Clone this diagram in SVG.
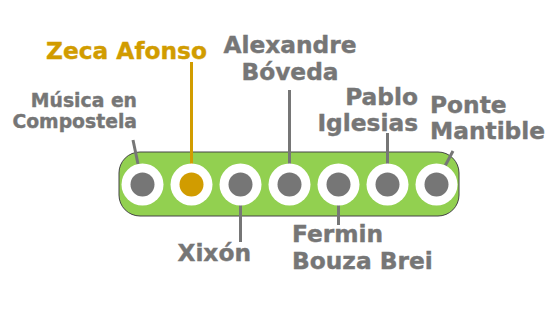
<svg xmlns="http://www.w3.org/2000/svg" width="545" height="321" viewBox="0 0 545 321">
<style>
text{font-family:"DejaVu Sans",Verdana,sans-serif;font-weight:bold;font-size:23.3px;fill:#767676;stroke:#767676;stroke-width:0.4}
.hl{fill:#d19c00;stroke:#d19c00}
.sm{font-size:18.8px}
.ln{stroke:#767676;stroke-width:3;fill:none}
.lnh{stroke:#d19c00;stroke-width:3;fill:none}
.ring{fill:#ffffff}
.dot{fill:#767676}
.doth{fill:#d19c00}
</style>
<rect id="bar" x="119" y="152" width="340" height="64" rx="21" ry="21" fill="#92d050" stroke="#444" stroke-width="1"/>
<g id="connectors">
<line class="ln" x1="133" y1="140" x2="138" y2="164"/>
<line class="lnh" x1="191.5" y1="62" x2="191.5" y2="164"/>
<line class="ln" x1="289.5" y1="90" x2="289.5" y2="164"/>
<line class="ln" x1="387.5" y1="133" x2="387.5" y2="164"/>
<line class="ln" x1="453" y1="151" x2="445" y2="166"/>
<line class="ln" x1="240.5" y1="204" x2="240.5" y2="242"/>
<line class="ln" x1="338.5" y1="204" x2="338.5" y2="225"/>
</g>
<g id="musica"><circle class="ring" cx="142.5" cy="184.5" r="21"/><circle class="dot" cx="142.5" cy="184.5" r="12"/>
<text class="sm" x="137" y="107" text-anchor="end">Música en</text><text class="sm" x="137" y="127.5" text-anchor="end">Compostela</text></g>
<g id="zeca"><circle class="ring" cx="191.5" cy="184.5" r="21"/><circle class="doth" cx="191.5" cy="184.5" r="12"/>
<text class="hl" x="207" y="58.5" text-anchor="end">Zeca Afonso</text></g>
<g id="xixon"><circle class="ring" cx="240.5" cy="184.5" r="21"/><circle class="dot" cx="240.5" cy="184.5" r="12"/>
<text x="251" y="261" text-anchor="end">Xixón</text></g>
<g id="alexandre"><circle class="ring" cx="289.5" cy="184.5" r="21"/><circle class="dot" cx="289.5" cy="184.5" r="12"/>
<text x="290" y="53.3" text-anchor="middle">Alexandre</text><text x="290" y="80" text-anchor="middle">Bóveda</text></g>
<g id="fermin"><circle class="ring" cx="338.5" cy="184.5" r="21"/><circle class="dot" cx="338.5" cy="184.5" r="12"/>
<text x="292" y="242">Fermin</text><text x="292" y="269">Bouza Brei</text></g>
<g id="pablo"><circle class="ring" cx="387.5" cy="184.5" r="21"/><circle class="dot" cx="387.5" cy="184.5" r="12"/>
<text x="418" y="105" text-anchor="end">Pablo</text><text x="418" y="131" text-anchor="end">Iglesias</text></g>
<g id="ponte"><circle class="ring" cx="436.5" cy="184.5" r="21"/><circle class="dot" cx="436.5" cy="184.5" r="12"/>
<text x="430" y="113">Ponte</text><text x="430" y="139">Mantible</text></g>
</svg>
